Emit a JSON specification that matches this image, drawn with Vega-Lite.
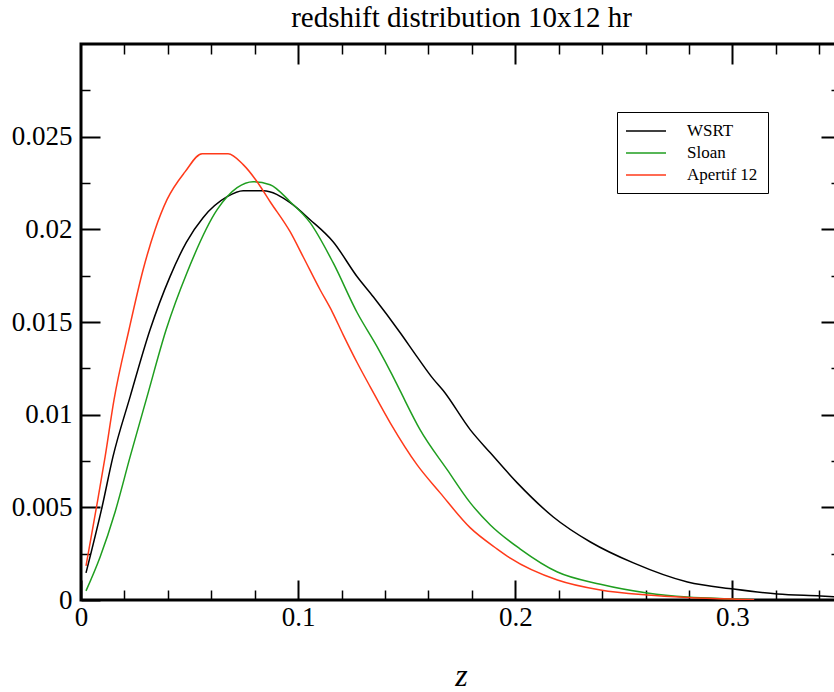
{
  "$schema": "https://vega.github.io/schema/vega-lite/v6.json",
  "width": 760,
  "height": 556,
  "autosize": {"type": "none"},
  "padding": {"left": 81, "top": 44, "right": 0, "bottom": 92},
  "background": "white",
  "config": {
    "view": {"stroke": "black", "strokeWidth": 3},
    "axis": {"domain": false, "grid": false, "tickColor": "black", "labelColor": "black", "labelFont": "Liberation Serif", "labelFontSize": 27, "titleColor": "black", "labelFlush": false}
  },
  "data": {"name": "curves"},
  "datasets": {
    "curves": [
      {"series": "WSRT", "z": 0.0023, "p": 0.00146},
      {"series": "WSRT", "z": 0.0097, "p": 0.00502},
      {"series": "WSRT", "z": 0.0147, "p": 0.00772},
      {"series": "WSRT", "z": 0.0226, "p": 0.01096},
      {"series": "WSRT", "z": 0.0318, "p": 0.01458},
      {"series": "WSRT", "z": 0.041, "p": 0.01745},
      {"series": "WSRT", "z": 0.0485, "p": 0.0193},
      {"series": "WSRT", "z": 0.0562, "p": 0.02063},
      {"series": "WSRT", "z": 0.0673, "p": 0.02176},
      {"series": "WSRT", "z": 0.0747, "p": 0.02208},
      {"series": "WSRT", "z": 0.0839, "p": 0.02208},
      {"series": "WSRT", "z": 0.0963, "p": 0.02144},
      {"series": "WSRT", "z": 0.1055, "p": 0.02052},
      {"series": "WSRT", "z": 0.1161, "p": 0.01933},
      {"series": "WSRT", "z": 0.1272, "p": 0.01744},
      {"series": "WSRT", "z": 0.1346, "p": 0.01636},
      {"series": "WSRT", "z": 0.147, "p": 0.01442},
      {"series": "WSRT", "z": 0.1548, "p": 0.01312},
      {"series": "WSRT", "z": 0.1622, "p": 0.01193},
      {"series": "WSRT", "z": 0.1668, "p": 0.0113},
      {"series": "WSRT", "z": 0.1793, "p": 0.00918},
      {"series": "WSRT", "z": 0.1885, "p": 0.00794},
      {"series": "WSRT", "z": 0.2009, "p": 0.00632},
      {"series": "WSRT", "z": 0.2175, "p": 0.00448},
      {"series": "WSRT", "z": 0.2346, "p": 0.00313},
      {"series": "WSRT", "z": 0.2544, "p": 0.002},
      {"series": "WSRT", "z": 0.2793, "p": 0.00097},
      {"series": "WSRT", "z": 0.3005, "p": 0.00059},
      {"series": "WSRT", "z": 0.3207, "p": 0.00032},
      {"series": "WSRT", "z": 0.3406, "p": 0.00022},
      {"series": "WSRT", "z": 0.3502, "p": 0.00016},
      {"series": "Sloan", "z": 0.0023, "p": 0.00049},
      {"series": "Sloan", "z": 0.0088, "p": 0.00232},
      {"series": "Sloan", "z": 0.0157, "p": 0.00475},
      {"series": "Sloan", "z": 0.0226, "p": 0.00772},
      {"series": "Sloan", "z": 0.0304, "p": 0.01096},
      {"series": "Sloan", "z": 0.0392, "p": 0.01458},
      {"series": "Sloan", "z": 0.0488, "p": 0.01766},
      {"series": "Sloan", "z": 0.0627, "p": 0.02106},
      {"series": "Sloan", "z": 0.0719, "p": 0.02225},
      {"series": "Sloan", "z": 0.0793, "p": 0.02257},
      {"series": "Sloan", "z": 0.0871, "p": 0.02241},
      {"series": "Sloan", "z": 0.0963, "p": 0.02149},
      {"series": "Sloan", "z": 0.1055, "p": 0.02036},
      {"series": "Sloan", "z": 0.1161, "p": 0.0182},
      {"series": "Sloan", "z": 0.1272, "p": 0.0155},
      {"series": "Sloan", "z": 0.1364, "p": 0.01366},
      {"series": "Sloan", "z": 0.1433, "p": 0.01215},
      {"series": "Sloan", "z": 0.147, "p": 0.01128},
      {"series": "Sloan", "z": 0.1562, "p": 0.00918},
      {"series": "Sloan", "z": 0.1687, "p": 0.00702},
      {"series": "Sloan", "z": 0.1793, "p": 0.00524},
      {"series": "Sloan", "z": 0.1885, "p": 0.00405},
      {"series": "Sloan", "z": 0.2023, "p": 0.00275},
      {"series": "Sloan", "z": 0.2194, "p": 0.00151},
      {"series": "Sloan", "z": 0.2392, "p": 0.00085},
      {"series": "Sloan", "z": 0.2608, "p": 0.00038},
      {"series": "Sloan", "z": 0.2793, "p": 0.00016},
      {"series": "Sloan", "z": 0.3005, "p": 0.00006},
      {"series": "Sloan", "z": 0.31, "p": 0.00002},
      {"series": "Apertif 12", "z": 0.0023, "p": 0.00184},
      {"series": "Apertif 12", "z": 0.0069, "p": 0.00486},
      {"series": "Apertif 12", "z": 0.0111, "p": 0.00772},
      {"series": "Apertif 12", "z": 0.0152, "p": 0.0108},
      {"series": "Apertif 12", "z": 0.0221, "p": 0.01458},
      {"series": "Apertif 12", "z": 0.0286, "p": 0.01782},
      {"series": "Apertif 12", "z": 0.0341, "p": 0.01998},
      {"series": "Apertif 12", "z": 0.0396, "p": 0.0216},
      {"series": "Apertif 12", "z": 0.0479, "p": 0.0231},
      {"series": "Apertif 12", "z": 0.0558, "p": 0.02408},
      {"series": "Apertif 12", "z": 0.0677, "p": 0.02408},
      {"series": "Apertif 12", "z": 0.0747, "p": 0.02349},
      {"series": "Apertif 12", "z": 0.0811, "p": 0.02257},
      {"series": "Apertif 12", "z": 0.0871, "p": 0.02149},
      {"series": "Apertif 12", "z": 0.0963, "p": 0.01987},
      {"series": "Apertif 12", "z": 0.1023, "p": 0.01852},
      {"series": "Apertif 12", "z": 0.1101, "p": 0.01674},
      {"series": "Apertif 12", "z": 0.1157, "p": 0.01555},
      {"series": "Apertif 12", "z": 0.1207, "p": 0.01432},
      {"series": "Apertif 12", "z": 0.1272, "p": 0.0128},
      {"series": "Apertif 12", "z": 0.1332, "p": 0.0115},
      {"series": "Apertif 12", "z": 0.1424, "p": 0.00956},
      {"series": "Apertif 12", "z": 0.1548, "p": 0.00729},
      {"series": "Apertif 12", "z": 0.1654, "p": 0.00578},
      {"series": "Apertif 12", "z": 0.1793, "p": 0.00389},
      {"series": "Apertif 12", "z": 0.1917, "p": 0.00275},
      {"series": "Apertif 12", "z": 0.1977, "p": 0.00226},
      {"series": "Apertif 12", "z": 0.2194, "p": 0.00108},
      {"series": "Apertif 12", "z": 0.2392, "p": 0.00054},
      {"series": "Apertif 12", "z": 0.2608, "p": 0.00027},
      {"series": "Apertif 12", "z": 0.2793, "p": 0.00014},
      {"series": "Apertif 12", "z": 0.3005, "p": 0.00005},
      {"series": "Apertif 12", "z": 0.31, "p": 0.00002}
    ]
  },
  "layer": [
    {
      "mark": {"type": "line", "strokeWidth": 1.5, "clip": true, "interpolate": "monotone"},
      "encoding": {
        "x": {"field": "z", "type": "quantitative", "scale": {"domain": [0, 0.35], "nice": false, "zero": false},
          "axis": {"orient": "bottom", "values": [0, 0.1, 0.2, 0.3], "tickSize": -20, "tickWidth": 2, "labelPadding": 24, "format": "~g", "title": "z", "titleFont": "Liberation Serif", "titleFontStyle": "italic", "titleFontWeight": "normal", "titleFontSize": 32, "titlePadding": 30}},
        "y": {"field": "p", "type": "quantitative", "scale": {"domain": [0, 0.03], "nice": false},
          "axis": {"orient": "left", "values": [0, 0.005, 0.01, 0.015, 0.02, 0.025], "tickSize": -19, "tickWidth": 2, "labelPadding": 28, "format": "~g", "title": null}},
        "color": {"field": "series", "type": "nominal",
          "scale": {"domain": ["WSRT", "Sloan", "Apertif 12"], "range": ["#000000", "#1f9e1f", "#ff3a1a"]},
          "legend": {"title": null, "orient": "none", "legendX": 536, "legendY": 68, "strokeColor": "black", "fillColor": "white", "padding": 10, "symbolType": "M-2.5,0H2.5", "symbolSize": 256, "symbolOffset": 10, "symbolStrokeWidth": 1.5, "labelFont": "Liberation Serif", "labelFontSize": 17, "labelColor": "black", "labelOffset": 32, "rowPadding": 5}}
      }
    },
    {
      "mark": {"type": "point", "opacity": 0},
      "encoding": {
        "x": {"field": "z", "type": "quantitative", "axis": {"orient": "bottom", "values": [0.02, 0.04, 0.06, 0.08, 0.12, 0.14, 0.16, 0.18, 0.22, 0.24, 0.26, 0.28, 0.32, 0.34], "tickSize": -10, "tickWidth": 1.5, "labels": false, "title": null}},
        "y": {"field": "p", "type": "quantitative", "axis": {"orient": "left", "values": [0.0025, 0.0075, 0.0125, 0.0175, 0.0225, 0.0275], "tickSize": -9, "tickWidth": 1.5, "labels": false, "title": null}}
      }
    },
    {
      "mark": {"type": "point", "opacity": 0},
      "encoding": {
        "x": {"field": "z", "type": "quantitative", "axis": {"orient": "top", "values": [0.1, 0.2, 0.3], "tickSize": -20, "tickWidth": 2, "labels": false, "title": "redshift distribution 10x12 hr", "titleFont": "Liberation Serif", "titleFontSize": 29, "titleFontWeight": "normal", "titleBaseline": "alphabetic", "titlePadding": 17}},
        "y": {"field": "p", "type": "quantitative", "axis": {"orient": "right", "values": [0.005, 0.01, 0.015, 0.02, 0.025], "tickSize": -20, "tickWidth": 2, "labels": false, "title": null}}
      }
    },
    {
      "mark": {"type": "point", "opacity": 0},
      "encoding": {
        "x": {"field": "z", "type": "quantitative", "axis": {"orient": "top", "values": [0.02, 0.04, 0.06, 0.08, 0.12, 0.14, 0.16, 0.18, 0.22, 0.24, 0.26, 0.28, 0.32, 0.34], "tickSize": -10, "tickWidth": 1.5, "labels": false, "title": null}},
        "y": {"field": "p", "type": "quantitative", "axis": {"orient": "right", "values": [0.0025, 0.0075, 0.0125, 0.0175, 0.0225, 0.0275], "tickSize": -10, "tickWidth": 1.5, "labels": false, "title": null}}
      }
    }
  ],
  "resolve": {"axis": {"x": "independent", "y": "independent"}}
}
